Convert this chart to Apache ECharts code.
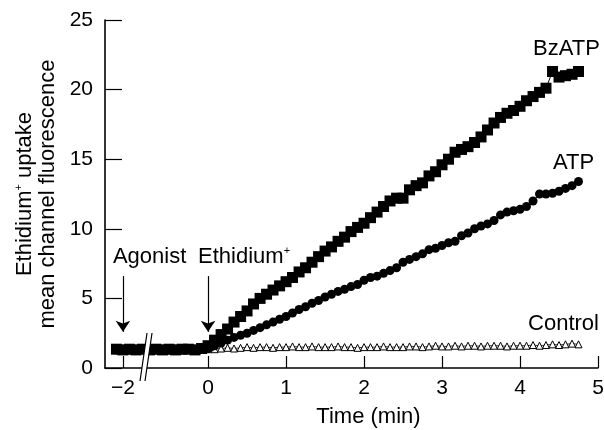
<!DOCTYPE html>
<html>
<head>
<meta charset="utf-8">
<script src="https://cdn.jsdelivr.net/npm/echarts@6.0.0/dist/echarts.min.js"></script>
<style>
  html, body { margin: 0; padding: 0; background: #fff; }
  #main { width: 604px; height: 430px; }
</style>
</head>
<body>
<div id="main"></div>
<script>
// sample times (min), 5 s apart; the part before 0 is shown either side of the axis break
var PRE_TIMES = [-2.083, -2, -1.917, -1.833, -1.75,
  -0.75, -0.667, -0.583, -0.5, -0.417, -0.333, -0.25, -0.167, -0.083];
var TIMES = [0, 0.083, 0.167, 0.25, 0.333, 0.417, 0.5, 0.583, 0.667, 0.75,
  0.833, 0.917, 1, 1.083, 1.167, 1.25, 1.333, 1.417, 1.5, 1.583,
  1.667, 1.75, 1.833, 1.917, 2, 2.083, 2.167, 2.25, 2.333, 2.417,
  2.5, 2.583, 2.667, 2.75, 2.833, 2.917, 3, 3.083, 3.167, 3.25,
  3.333, 3.417, 3.5, 3.583, 3.667, 3.75, 3.833, 3.917, 4, 4.083,
  4.167, 4.25, 4.333, 4.417, 4.5, 4.583, 4.667, 4.75];

var BZATP_PRE = [1.35, 1.30, 1.35, 1.30, 1.35, 1.30, 1.35, 1.30, 1.35, 1.30, 1.35, 1.35, 1.30, 1.40];
var ATP_PRE = [1.30, 1.35, 1.30, 1.35, 1.30, 1.35, 1.30, 1.35, 1.30, 1.35, 1.30, 1.35, 1.35, 1.35];
var CONTROL_PRE = [1.30, 1.30, 1.35, 1.30, 1.30, 1.30, 1.35, 1.30, 1.30, 1.35, 1.30, 1.30, 1.35, 1.30];

var BZATP = [1.6, 2.0, 2.4, 2.8, 3.3, 3.7, 4.1, 4.6, 5.0, 5.3,
  5.6, 5.9, 6.2, 6.5, 6.9, 7.2, 7.6, 8.0, 8.4, 8.7,
  9.1, 9.4, 9.8, 10.1, 10.4, 10.8, 11.2, 11.6, 12.0, 12.2,
  12.2, 12.8, 13.1, 13.3, 13.8, 14.1, 14.6, 15.0, 15.5, 15.7,
  15.9, 16.2, 16.6, 17.1, 17.6, 18.0, 18.3, 18.5, 18.8, 19.2,
  19.5, 19.8, 20.1, 21.3, 20.9, 21.0, 21.1, 21.3];
var ATP = [1.4, 1.6, 1.8, 2.0, 2.2, 2.35, 2.5, 2.7, 2.9, 3.1,
  3.3, 3.5, 3.7, 3.95, 4.2, 4.4, 4.65, 4.85, 5.1, 5.3,
  5.5, 5.65, 5.85, 6.0, 6.3, 6.5, 6.6, 6.8, 7.0, 7.2,
  7.6, 7.8, 8.0, 8.2, 8.5, 8.6, 8.8, 9.0, 9.1, 9.5,
  9.7, 10.0, 10.2, 10.35, 10.6, 11.0, 11.2, 11.3, 11.4, 11.6,
  12.0, 12.5, 12.5, 12.55, 12.7, 12.9, 13.1, 13.4];
var CONTROL = [1.35, 1.35, 1.40, 1.45, 1.40, 1.45, 1.50, 1.45, 1.50, 1.50,
  1.45, 1.50, 1.50, 1.55, 1.50, 1.50, 1.55, 1.50, 1.50, 1.50,
  1.55, 1.50, 1.50, 1.45, 1.50, 1.50, 1.50, 1.55, 1.50, 1.50,
  1.50, 1.55, 1.55, 1.50, 1.55, 1.60, 1.55, 1.55, 1.60, 1.55,
  1.60, 1.60, 1.55, 1.60, 1.60, 1.60, 1.55, 1.60, 1.60, 1.60,
  1.65, 1.60, 1.65, 1.70, 1.65, 1.70, 1.75, 1.70];

var X_TICKS = [-2, 0, 1, 2, 3, 4, 5];
var X_BREAK = [-1.72, -0.78];
// where agonist / ethidium were added
var ADD_TIMES = [-2, 0];
var ADD_NAMES = ['Agonist', '{a|Ethidium}{s|+}'];

var FONT = 'Liberation Sans';

function pairs(pre, vals, preT) {
  var all = preT.concat(TIMES), v = pre.concat(vals);
  return all.map(function (t, i) { return [t, v[i]]; });
}

function endMark(data, text, off) {
  var last = data[data.length - 1];
  return {
    silent: true,
    symbol: 'circle',
    symbolSize: 0,
    data: [{ coord: last }],
    label: {
      show: true, position: 'inside', formatter: text, offset: off,
      color: '#000', fontSize: 22, fontFamily: FONT
    }
  };
}

var chart = echarts.init(document.getElementById('main'));

var bzData = pairs(BZATP_PRE, BZATP, PRE_TIMES);
var atpData = pairs(ATP_PRE, ATP, PRE_TIMES);
var ctlData = pairs(CONTROL_PRE, CONTROL, PRE_TIMES);

var option = {
  animation: false,
  textStyle: { fontFamily: FONT, color: '#000' },
  grid: { left: 105, right: 6, top: 20, bottom: 62, containLabel: false, outerBoundsMode: 'none' },
  xAxis: {
    type: 'value',
    min: -2.23,
    max: 5,
    breaks: [{ start: X_BREAK[0], end: X_BREAK[1], gap: '0.5%' }],
    breakArea: { show: false },
    axisLine: { onZero: false, lineStyle: { color: '#000', width: 1.5 } },
    axisTick: { show: true, inside: true, length: 12, customValues: X_TICKS,
      lineStyle: { color: '#000', width: 1.2 } },
    axisLabel: {
      customValues: X_TICKS, color: '#000', fontSize: 21, margin: 10, fontFamily: FONT,
      formatter: function (v) { return String(v).replace('-', '\u2212'); }
    },
    splitLine: { show: false },
    name: 'Time (min)',
    nameLocation: 'middle',
    nameGap: 38,
    nameTextStyle: { color: '#000', fontSize: 22, fontFamily: FONT, padding: [0, 0, 0, 34] }
  },
  yAxis: {
    type: 'value',
    min: 0,
    max: 25,
    interval: 5,
    axisLine: { show: true, onZero: false, lineStyle: { color: '#000', width: 1.6 } },
    axisTick: { show: true, inside: true, length: 17, lineStyle: { color: '#000', width: 1.2 } },
    axisLabel: { color: '#000', fontSize: 21, margin: 12, fontFamily: FONT },
    splitLine: { show: false },
    name: '{a|Ethidium}{s|+}{a| uptake}\n{a|mean channel fluorescence}',
    nameLocation: 'middle',
    nameRotate: 90,
    nameGap: 41,
    nameTextStyle: {
      rich: {
        a: { fontSize: 22, fontFamily: FONT, color: '#000', lineHeight: 23 },
        s: { fontSize: 11, fontFamily: FONT, color: '#000', padding: [0, 0, 11, 0] }
      }
    }
  },
  series: [
    {
      name: 'Control', type: 'line', data: ctlData,
      symbol: 'triangle', symbolSize: 7, showSymbol: true, showAllSymbol: true,
      itemStyle: { color: '#fff', borderColor: '#000', borderWidth: 1 },
      lineStyle: { color: '#000', width: 0.8 },
      markPoint: endMark(ctlData, 'Control', [-15, -20])
    },
    {
      name: 'ATP', type: 'line', data: atpData,
      symbol: 'circle', symbolSize: 9, showSymbol: true, showAllSymbol: true,
      itemStyle: { color: '#000' }, lineStyle: { color: '#000', width: 1 },
      markPoint: endMark(atpData, 'ATP', [-5, -19])
    },
    {
      name: 'BzATP', type: 'line', data: bzData,
      symbol: 'rect', symbolSize: 11, showSymbol: true, showAllSymbol: true,
      itemStyle: { color: '#000' }, lineStyle: { color: '#000', width: 1 },
      markPoint: endMark(bzData, 'BzATP', [-12, -23])
    },
    {
      name: 'additions', type: 'scatter', data: [],
      markLine: {
        silent: true,
        symbol: ['none', 'arrow'],
        symbolSize: 11,
        label: { show: false },
        lineStyle: { color: '#000', width: 1.2, type: 'solid' },
        data: ADD_TIMES.map(function (t) { return [{ coord: [t, 6.6] }, { coord: [t, 2.6] }]; })
      },
      markPoint: {
        silent: true,
        symbol: 'circle',
        symbolSize: 0,
        label: {
          show: true, position: 'inside', align: 'left', offset: [-10, 0],
          color: '#000', fontSize: 22, fontFamily: FONT,
          rich: {
            a: { fontSize: 22, fontFamily: FONT, color: '#000' },
            s: { fontSize: 11, fontFamily: FONT, color: '#000', padding: [0, 0, 12, 0] }
          }
        },
        data: ADD_TIMES.map(function (t, i) {
          return { coord: [t, 7.97], label: { formatter: ADD_NAMES[i] } };
        })
      }
    }
  ]
};

chart.setOption(option);

// the "//" marks over the broken time axis
var xa = chart.convertToPixel({ xAxisIndex: 0 }, X_BREAK[0]);
var xb = chart.convertToPixel({ xAxisIndex: 0 }, X_BREAK[1]);
var y0 = chart.convertToPixel({ yAxisIndex: 0 }, 0);
var m = (xa + xb) / 2;
function slash(dx) {
  return {
    type: 'line', z: 100,
    shape: { x1: m + dx + 3.5, y1: y0 - 35, x2: m + dx - 3.5, y2: y0 + 13 },
    style: { stroke: '#000', lineWidth: 1.2 }
  };
}
chart.setOption({
  graphic: [
    {
      type: 'polygon', z: 99,
      shape: { points: [[m + 1, y0 - 35], [m + 6, y0 - 35], [m - 1, y0 + 13], [m - 6, y0 + 13]] },
      style: { fill: '#fff' }
    },
    slash(-2.5),
    slash(2.5)
  ]
});
</script>
</body>
</html>
